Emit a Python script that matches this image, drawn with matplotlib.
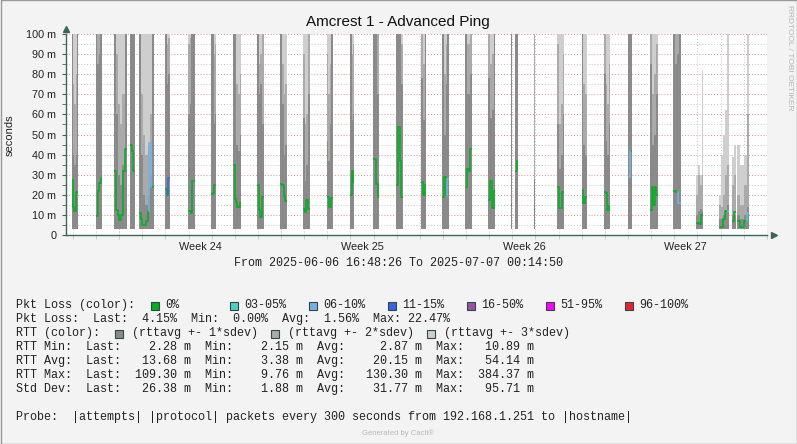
import numpy as np
import matplotlib
matplotlib.use("Agg")
import matplotlib.pyplot as plt
from matplotlib.patches import Rectangle
from datetime import datetime, timedelta

# time window of the graph
start = datetime(2025, 6, 6, 16, 48, 26)
end = datetime(2025, 7, 7, 0, 14, 50)

F = 120  # above the top of the graph

# data blocks, in days after start
bar_start = [0.25, 1.28, 2.08, 2.76, 3.16, 4.28, 5.27, 6.26, 7.23, 8.26, 9.26,
             10.24, 11.28, 12.29, 13.29, 14.28, 15.35, 16.27, 17.26, 18.26,
             19.26, 19.43, 20.25, 21.23, 22.29, 23.28, 24.28, 25.27, 26.26,
             27.25, 28.23, 28.81, 29.03]
bar_end = [0.54, 1.55, 2.62, 2.98, 3.80, 4.49, 5.58, 6.50, 7.57, 8.55, 9.55,
           10.55, 11.54, 12.46, 13.54, 14.57, 15.58, 16.57, 17.55, 18.56,
           19.30, 19.55, 20.29, 21.55, 22.53, 23.54, 24.48, 25.58, 26.57,
           27.56, 28.66, 28.95, 29.53]

# smoke tops (ms): rttavg+1*sdev, +2*sdev, +3*sdev
smoke_dark = [
    [F, 40, 35, 40, F], [F, 85, 90, F], [F, 60, 30, 25, 35, F], [F, F],
    [F, 40, 20, 15, 20, 30, F], [F, 75, 80], [60, 65, F, F], [F, F, 55, 60],
    [F, F, 45, 42, 50], [F, 70, 75, 55], [F, 65, 40, 45], [58, 27, 35, 70],
    [47, 37, 55, F], [F, 57, 60], [F, F, 70], [F, F, 75], [78, 57, F],
    [F, 50, 75, F], [F, 70, 80], [78, 58, 62, F], [F], [F, F], [28],
    [55, 33, 40, 60], [F, 45, 40], [80, 47, 40, 55], [F, F], [85, 45, 50, 70],
    [100, 85, 90, F], [10, 12, 13, 12], [8, 8, 10, 12, 15], [10, 10],
    [10, 8, 8, 10, 14],
]
smoke_mid = [
    [F, 75, 65, 80, F], [F, 100, F, F], [F, 90, 65, 55, 70, F], [F, F],
    [F, 70, 50, 40, 45, 60, F], [F, 95, 98], [95, 98, F, F], [F, F, 90, 95],
    [F, F, 75, 70, 80], [F, 85, 90, 100], [F, 85, 70, 75], [90, 55, 60, 100],
    [90, 70, 85, F], [F, 90, 95], [F, F, 100], [F, F, 95], [100, 85, F],
    [F, 80, 95, F], [F, 95, 100], [100, 85, 90, F], [F], [F, F], [F],
    [95, 55, 65, 90], [F, 75, 70], [100, 75, 65, 85], [F, F], [100, 70, 80, 95],
    [F, F, F, F], [20, 30, 25, 30], [15, 14, 20, 30, 35], [25, 30],
    [20, 15, 15, 25, 60],
]
smoke_light = [[F] * len(d) for d in smoke_dark[:29]] + [
    [30, 35, 30, 82], [20, 40, 50, 62, F], [39, 45], [45, 35, 35, 40, F],
]

# median rtt (ms)
rtt_median = [
    [27.5, 14, 12, 12, 21.5, 21.5], [9.3, 9.3, 22, 26, 28.4],
    [32, 12.6, 10, 7.6, 10, 32, 43], [44.6, 42, 31.7],
    [11, 8, 5, 5, 5, 7, 12, 46, 24, 24], [23, 20, 28.4],
    [11.8, 11.8, 11, 27, 27], [20.4, 21, 25], [35, 18, 16.5, 14, 14, 16],
    [24.7, 12.6, 9, 19], [25.4, 25, 19.4, 17], [13, 11.4, 17.4, 13],
    [19, 14, 18.4], [20, 31.7, 26.4], [38, 38, 25.4, 19], [25, 53.7, 36.7, 19],
    [26.4, 20, 24.7], [19, 28.7, 20, 28], [24, 33, 31.7, 43],
    [17.6, 26.7, 13.4, 21.7], [15], [31.7, 36.7], [12.3], [23.7, 13.4, 21.4],
    [22.2, 16, 19], [21.4, 21, 12.6, 14.3], [28.7, 42], [12.6, 24, 15, 24, 20],
    [21.7, 21.4, 16], [5.8, 5.5, 10], [3.8, 3.8, 8, 12, 12], [7, 11.4],
    [7, 3.8, 3.8, 7, 11],
]
# (bar, step, loss class) for steps that are not 0% loss
loss_marks = [(4, 7, 2), (5, 2, 3), (17, 3, 2), (20, 0, 3), (26, 0, 2),
              (28, 2, 2), (30, 4, 1), (32, 4, 1)]

loss_labels = ["0%", "03-05%", "06-10%", "11-15%", "16-50%", "51-95%", "96-100%"]
loss_colors = ["#00b020", "#4ccfc6", "#74b2e6", "#3a62e4", "#9a4ea8", "#ff00ff", "#ee2030"]
smoke_labels = ["(rttavg +- 1*sdev)", "(rttavg +- 2*sdev)", "(rttavg +- 3*sdev)"]
smoke_colors = ["#8a8a8a", "#aaaaaa", "#cecece"]

stats_lines = [
    "Pkt Loss:  Last:  4.15%  Min:  0.00%  Avg:  1.56%  Max: 22.47%",
    "RTT Min:  Last:    2.28 m  Min:    2.15 m  Avg:     2.87 m  Max:   10.89 m",
    "RTT Avg:  Last:   13.68 m  Min:    3.38 m  Avg:    20.15 m  Max:   54.14 m",
    "RTT Max:  Last:  109.30 m  Min:    9.76 m  Avg:   130.30 m  Max:  384.37 m",
    "Std Dev:  Last:   26.38 m  Min:    1.88 m  Avg:    31.77 m  Max:   95.71 m",
]
probe_line = "Probe:  |attempts| |protocol| packets every 300 seconds from 192.168.1.251 to |hostname|"

W, H = 797, 444
AXC = "#3d6657"
MONO = "Liberation Mono"
SANS = "Liberation Sans"

fig = plt.figure(figsize=(W / 100, H / 100), dpi=100, facecolor="#f3f3f3")
ax = fig.add_axes([66 / W, 1 - 235 / H, 701 / W, 201 / H])
ax.set_facecolor("white")
span = (end - start).total_seconds() / 86400
ax.set_xlim(0, span)
ax.set_ylim(0, 100)


def day_off(t):
    return (t - start).total_seconds() / 86400


# smoke
for i in range(len(bar_start)):
    n = len(smoke_dark[i])
    edges = np.linspace(bar_start[i], bar_end[i], n + 1)
    t1 = np.minimum(np.array(smoke_dark[i], float), 101)
    t2 = np.minimum(np.maximum(smoke_mid[i], t1), 101)
    t3 = np.minimum(np.maximum(smoke_light[i], t2), 101)
    ax.stairs(t3, edges, baseline=t2, fill=True, color=smoke_colors[2], lw=0, zorder=1)
    ax.stairs(t2, edges, baseline=t1, fill=True, color=smoke_colors[1], lw=0, zorder=1)
    ax.stairs(t1, edges, baseline=3, fill=True, color=smoke_colors[0], lw=0, zorder=1)

# grid, under the smoke
for v in range(5, 101, 5):
    ax.axhline(v, color="#e08c8c" if v % 10 == 0 else "#c4c4c4", lw=0.7,
               ls=(0, (1, 2)), zorder=0.5)
d = datetime(2025, 6, 7)
day_ticks = []
while d < end:
    week = d.weekday() == 0
    ax.axvline(day_off(d), color="#e08c8c" if week else "#c4c4c4", lw=0.7,
               ls=(0, (1, 2)), zorder=0.5)
    day_ticks.append(day_off(d))
    d += timedelta(days=1)

# median line coloured by loss
cls = [[0] * len(m) for m in rtt_median]
for b, s, c in loss_marks:
    cls[b][s] = c
for i in range(len(bar_start)):
    m = rtt_median[i]
    edges = np.linspace(bar_start[i], bar_end[i], len(m) + 1)
    for k in range(len(m)):
        ax.plot([edges[k], edges[k + 1]], [m[k], m[k]], color=loss_colors[cls[i][k]],
                lw=1.1, zorder=4, solid_capstyle="butt")
        if k > 0:
            c = loss_colors[max(cls[i][k], cls[i][k - 1])]
            ax.plot([edges[k], edges[k]], [m[k - 1], m[k]], color=c, lw=1.1, zorder=4)

# axes
for s in ["top", "right"]:
    ax.spines[s].set_visible(False)
for s in ["left", "bottom"]:
    ax.spines[s].set_color(AXC)
    ax.spines[s].set_linewidth(1)
ax.set_yticks(range(0, 101, 10))
ax.set_yticklabels(["0"] + [f"{v} m" for v in range(10, 101, 10)])
ax.set_yticks(range(5, 100, 10), minor=True)
week_mid = [day_off(datetime(2025, 6, 12, 12) + timedelta(days=7 * k)) for k in range(4)]
ax.set_xticks(week_mid)
ax.set_xticklabels([f"Week {24 + k}" for k in range(4)])
ax.set_xticks(day_ticks, minor=True)
ax.tick_params(axis="y", which="both", length=3, color=AXC, pad=4,
               labelsize=7.8, labelcolor="#222222")
ax.tick_params(axis="x", which="major", length=0, pad=5, labelsize=7.8, labelcolor="#222222")
ax.tick_params(axis="x", which="minor", length=3, color="#c4c4c4")
for lab in ax.get_xticklabels() + ax.get_yticklabels():
    lab.set_family(SANS)
ax.plot([0], [102.5], marker="^", color=AXC, ms=5, clip_on=False, zorder=5)
ax.plot([span + 0.3], [0], marker=">", color=AXC, ms=5, clip_on=False, zorder=5)


def ftext(x, y, s, **kw):
    fig.text(x / W, 1 - y / H, s, **kw)


def square(x, y, c):
    fig.add_artist(Rectangle((x / W, 1 - (y + 4.5) / H), 8 / W, 8 / H, facecolor=c,
                             edgecolor="#2e4a44", lw=0.8, transform=fig.transFigure))


ftext(398, 22, "Amcrest 1 - Advanced Ping", ha="center", va="center",
      family=SANS, fontsize=11, color="#111111")
ftext(10, 135, "seconds", rotation=90, ha="center", va="center", family=SANS,
      fontsize=8, color="#222222")
ftext(789, 5, "RRDTOOL / TOBI OETIKER", rotation=270, ha="center", va="top",
      family=SANS, fontsize=6, color="#b4b4b4")
ftext(398, 263, "From 2025-06-06 16:48:26 To 2025-07-07 00:14:50", ha="center",
      va="center", family=MONO, fontsize=8.5, color="#222222")

mono = dict(va="center", family=MONO, fontsize=8.5, color="#222222")
ftext(16, 305, "Pkt Loss (color):", **mono)
for k, (lab, c) in enumerate(zip(loss_labels, loss_colors)):
    square(150.7 + 79 * k, 305, c)
    ftext(165.5 + 79 * k, 305, lab, **mono)
ftext(16, 319, stats_lines[0], **mono)
ftext(16, 333, "RTT (color):", **mono)
for k, (lab, c) in enumerate(zip(smoke_labels, smoke_colors)):
    square(115 + 156.2 * k, 333, c)
    ftext(131.5 + 156.2 * k, 333, lab, **mono)
for k, line in enumerate(stats_lines[1:]):
    ftext(16, 347 + 13.9 * k, line, **mono)
ftext(16, 417, probe_line, **mono)
ftext(398, 433, "Generated by Cacti\u00ae", ha="center", va="center", family=SANS,
      fontsize=5.5, color="#b8b8b8")

fig.add_artist(Rectangle((0.5 / W, 0.5 / H), (W - 1) / W, (H - 1) / H, fill=False,
                         edgecolor="#9a9a9a", lw=1, transform=fig.transFigure))

fig.savefig("out.png", dpi=100, facecolor=fig.get_facecolor())
